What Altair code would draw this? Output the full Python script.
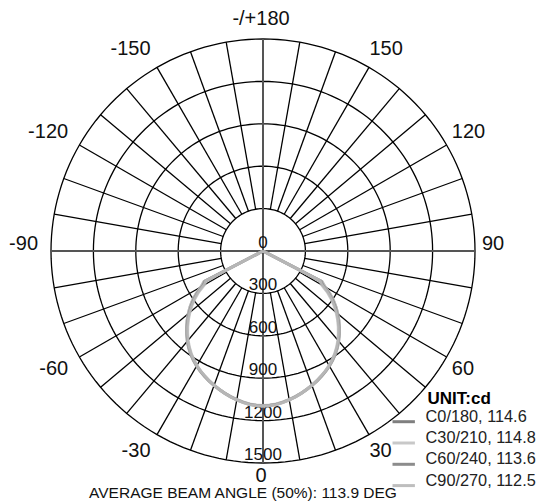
import altair as alt
import pandas as pd
import numpy as np

# ---------------- data ----------------
ring_values = [300, 600, 900, 1200, 1500]
ring_label_values = [0, 300, 600, 900, 1200, 1500]
ring_labels = ["0", "300", "600", "900", "1200", "1500"]

angle_label_deg = [0, 30, 60, 90, 120, 150, 180, -150, -120, -90, -60, -30]
angle_labels = ["0", "30", "60", "90", "120", "150", "-/+180",
                "-150", "-120", "-90", "-60", "-30"]

spoke_deg = [a for a in range(10, 360, 10) if a not in (90, 180, 270)]

gamma = [0, 2.5, 5, 7.5, 10, 12.5, 15, 17.5, 20, 22.5, 25, 27.5, 30, 32.5, 35,
         37.5, 40, 42.5, 45, 47.5, 50, 52.5, 55, 57.5, 60, 62.5, 65, 67.5, 70,
         72.5, 75, 77.5, 80, 82.5, 85, 87.5, 90]
series_names = ["C0/180, 114.6", "C30/210, 114.8", "C60/240, 113.6", "C90/270, 112.5"]
series_colors = ["#7f7f7f", "#c8c8c8", "#8c8c8c", "#bebebe"]
c0_180 = [1095, 1093, 1088, 1079, 1068, 1056, 1042, 1027, 1012, 996, 978, 960, 940,
          917, 892, 864, 833, 800, 765, 728, 690, 650, 608, 560, 505, 470,
          0, 0, 0, 0, 0, 0, 0, 0, 0, 0, 0]
c30_210 = [1093, 1091, 1086, 1077, 1067, 1055, 1041, 1026, 1011, 995, 977, 959, 939,
           916, 891, 863, 832, 799, 764, 728, 690, 651, 609, 562, 508, 472,
           0, 0, 0, 0, 0, 0, 0, 0, 0, 0, 0]
c60_240 = [1096, 1094, 1089, 1080, 1069, 1057, 1043, 1028, 1012, 995, 977, 958, 938,
           914, 889, 860, 829, 795, 760, 722, 683, 642, 598, 550, 492, 462,
           0, 0, 0, 0, 0, 0, 0, 0, 0, 0, 0]
c90_270 = [1098, 1096, 1091, 1082, 1070, 1058, 1043, 1027, 1011, 994, 975, 956, 935,
           911, 885, 856, 824, 789, 753, 715, 675, 633, 588, 538, 478, 455,
           0, 0, 0, 0, 0, 0, 0, 0, 0, 0, 0]
series_values = [c0_180, c30_210, c60_240, c90_270]

unit_text = "UNIT:cd"
footer_text = "AVERAGE BEAM ANGLE (50%): 113.9 DEG"

# ---------------- geometry helpers ----------------
W, H = 530, 494
R_PX = 212.0          # pixel radius of the 1500 cd ring
RMAX = 1500.0
K = R_PX / RMAX       # px per cd
CX, CY = 255.0, 243.0
x_dom = [-CX / K, (W - CX) / K]
y_dom = [-(H - CY) / K, CY / K]


def pol(r, deg):
    t = np.radians(deg)
    return r * np.sin(t), -r * np.cos(t)


# rings
rows = []
for rv in ring_values:
    for i, a in enumerate(range(0, 362, 2)):
        x, y = pol(rv, a)
        rows.append({"ring": rv, "i": i, "x": x, "y": y})
rings_df = pd.DataFrame(rows)

# spokes
rows = []
for a in spoke_deg:
    x1, y1 = pol(ring_values[0], a)
    x2, y2 = pol(ring_values[-1], a)
    rows.append({"x": x1, "y": y1, "x2": x2, "y2": y2})
spokes_df = pd.DataFrame(rows)

axes_df = pd.DataFrame([
    {"x": 0, "y": -RMAX, "x2": 0, "y2": RMAX},
    {"x": -RMAX, "y": 0, "x2": RMAX, "y2": 0},
])

ring_lab_df = pd.DataFrame({"label": ring_labels,
                            "x": [0.0] * len(ring_labels),
                            "y": [-v for v in ring_label_values]})

# angle labels: anchored on a circle just outside the grid
cw = {"-": 6.66, "/": 5.56, "+": 11.68}
rows = []
for a, lab in zip(angle_label_deg, angle_labels):
    w = sum(cw.get(ch, 11.12) for ch in lab)
    t = np.radians(a)
    ax_px = 225 * np.sin(t)
    ay_px = 225 * np.cos(t)          # positive = downward in pixels
    s = np.sin(t)
    if s > 0.01:
        cx_px = ax_px - 6 + w / 2
    elif s < -0.01:
        cx_px = ax_px - w / 2
    else:
        cx_px = ax_px - 2
    if np.cos(t) > 0.01:             # lower half: centred a bit below anchor
        cy_px = ay_px + 6 * abs(s) * np.cos(t) * 2
    else:                            # upper half: baseline on anchor
        cy_px = ay_px - 7
    rows.append({"label": lab, "x": cx_px / K, "y": -cy_px / K})
ang_lab_df = pd.DataFrame(rows)

rows = []
for name, vals in zip(series_names, series_values):
    full_g = [-g for g in gamma[::-1]] + gamma[1:]
    full_v = vals[::-1] + vals[1:]
    for i, (g, v) in enumerate(zip(full_g, full_v)):
        x, y = pol(v, g)
        rows.append({"series": name, "i": i, "x": x, "y": y})
curve_df = pd.DataFrame(rows)

xs = alt.Scale(domain=x_dom, nice=False, zero=False)
ys = alt.Scale(domain=y_dom, nice=False, zero=False)
X = lambda f="x": alt.X(f"{f}:Q", scale=xs, axis=None)
Y = lambda f="y": alt.Y(f"{f}:Q", scale=ys, axis=None)

FONT = "Liberation Sans"

rings = alt.Chart(rings_df).mark_line(color="#000000", strokeWidth=1.3).encode(
    x=X(), y=Y(), detail="ring:N", order="i:Q")

spokes = alt.Chart(spokes_df).mark_rule(color="#000000", strokeWidth=1.3).encode(
    x=X(), y=Y(), x2="x2:Q", y2="y2:Q")

axes = alt.Chart(axes_df).mark_rule(color="#555555", strokeWidth=2).encode(
    x=X(), y=Y(), x2="x2:Q", y2="y2:Q")

ring_labels_layer = alt.Chart(ring_lab_df).mark_text(
    font=FONT, fontSize=17, color="#111111", align="center",
    baseline="alphabetic", dy=-3).encode(x=X(), y=Y(), text="label:N")

angle_labels_layer = alt.Chart(ang_lab_df).mark_text(
    font=FONT, fontSize=20, color="#111111", align="center",
    baseline="middle").encode(x=X(), y=Y(), text="label:N")

curves = alt.Chart(curve_df).mark_line(strokeWidth=3, opacity=0.8).encode(
    x=X(), y=Y(), order="i:Q",
    color=alt.Color("series:N",
                    scale=alt.Scale(domain=series_names, range=series_colors),
                    legend=alt.Legend(
                        orient="none", legendX=387.2, legendY=405.2,
                        title=None, padding=0,
                        symbolType="M-1.6,0H1.6", symbolSize=196,
                        symbolStrokeWidth=3, symbolOpacity=1, labelOffset=13.4,
                        labelFontSize=16.3, labelFont=FONT, labelColor="#222222",
                        labelBaseline="alphabetic", rowPadding=1.3)))

unit = alt.Chart(pd.DataFrame({"t": [unit_text]})).mark_text(
    font=FONT, fontSize=17, fontWeight="bold", color="#000000",
    align="left", baseline="alphabetic").encode(
    x=alt.value(419.5), y=alt.value(396), text="t:N")

footer = alt.Chart(pd.DataFrame({"t": [footer_text]})).mark_text(
    font=FONT, fontSize=15.5, color="#111111",
    align="center", baseline="alphabetic").encode(
    x=alt.value(235), y=alt.value(490), text="t:N")

chart = alt.layer(rings, spokes, axes, ring_labels_layer, angle_labels_layer,
                  curves, unit, footer).properties(
    width=W, height=H, padding=0,
    autosize=alt.AutoSizeParams(type="none"),
    background="#ffffff",
).configure_view(strokeWidth=0)

chart.save("out.html", embed_options={"renderer": "svg", "actions": False})
